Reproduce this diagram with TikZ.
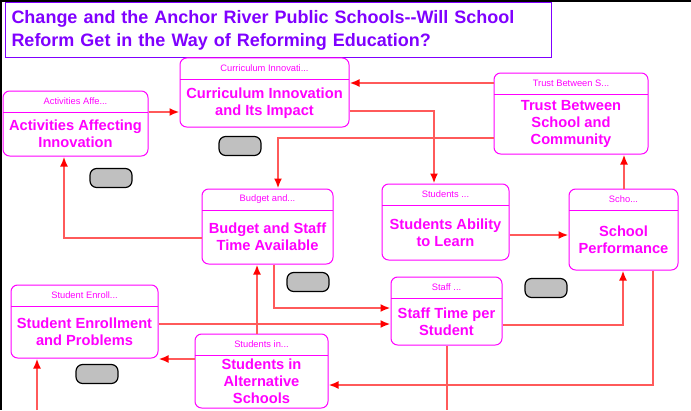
\documentclass[tikz,border=0pt]{standalone}
\usepackage{fontspec}
\setmainfont{Liberation Sans}
\usetikzlibrary{arrows.meta, fit, positioning}

\definecolor{mag}{RGB}{255,0,255}
\definecolor{titleviolet}{RGB}{128,0,255}
\definecolor{btngray}{RGB}{192,192,192}
\definecolor{linkred}{RGB}{255,90,90}

\tikzset{
  mbox/.style={draw=mag, line width=0.75pt, rounded corners=5pt, inner sep=0pt},
  hdtext/.style={text=mag, font=\fontsize{7}{8}\selectfont, inner sep=0pt},
  mtext/.style={text=mag, font=\bfseries\fontsize{11}{12.75}\selectfont, align=center, inner sep=0pt},
  plain/.style={draw=linkred, line width=1.5pt},
  link/.style={plain, -{Latex[length=7.5pt,width=6pt,fill=red,color=red]}},
  btn/.style={draw=black, fill=btngray, line width=0.9pt, rounded corners=5pt,
    minimum width=31.5pt, minimum height=14.25pt, inner sep=0pt}
}

\begin{document}
\begin{tikzpicture}[x=0.75pt, y=-0.75pt]
\useasboundingbox (0,0) rectangle (691,410);

% window edge
\fill[black] (0,0) rectangle (691,2);
\fill[black] (0,0) rectangle (2,410);

% title
\node[draw=titleviolet, line width=0.75pt, anchor=north west, text width=400.5pt,
  minimum height=41.25pt, inner sep=4.5pt, align=left, text=titleviolet,
  font=\bfseries\fontsize{13.5}{17.25}\selectfont] (title) at (5,2)
  {Change and the Anchor River Public Schools-{}-Will School\\Reform Get in the Way of Reforming Education?};

% model boxes: name/left/top/right/bottom/header/text
\foreach \nm/\xl/\yt/\xr/\yb/\hd/\tx in {
  acts/3/91/148/156/{Activities Affe...}/{Activities Affecting\\Innovation},
  curr/180/58/349/127/{Curriculum Innovati...}/{Curriculum Innovation\\and Its Impact},
  trust/494/73/648/154/{Trust Between S...}/{Trust Between\\School and\\Community},
  budget/202/189/333/264/{Budget and...}/{Budget and Staff\\Time Available},
  ability/382/184/509/260/{Students ...}/{Students Ability\\to Learn},
  perf/569/189/678/270/{Scho...}/{School\\Performance},
  staff/391/277/502/345/{Staff ...}/{Staff Time per\\Student},
  enroll/11/285/158/358/{Student Enroll...}/{Student Enrollment\\and Problems},
  alt/195/334/328/408/{Students in...}/{Students in\\Alternative\\Schools}}
{
  \node[mbox, fit={(\xl,\yt) (\xr,\yb)}] (\nm) {};
  \draw[draw=mag, line width=0.75pt] (\xl,\yt+21) -- (\xr,\yt+21);
  \node[hdtext] (\nm-hd) at ({(\xl+\xr)/2},\yt+10.5) {\hd};
  \node[mtext] (\nm-tx) at ({(\xl+\xr)/2},{(\yt+21+\yb)/2}) {\tx};
}

% gray buttons
\node[btn] (btn1) at (240,146) {};
\node[btn] (btn2) at (111,178) {};
\node[btn] (btn3) at (308,282) {};
\node[btn] (btn4) at (97,374) {};
\node[btn] (btn5) at (546,288) {};

% free ends at the bottom edge
\coordinate (enrollin) at (37,410);
\coordinate (staffout) at (447,410);

% connectors
\draw[link] (acts.east |- 0,112) -- (curr.west |- 0,112);
\draw[link] (trust.west |- 0,83) -- (curr.east |- 0,83);
\draw[link] (curr.east |- 0,111) -| (434,0 |- ability.north);
\draw[link] (trust.west |- 0,138) -| (278,0 |- budget.north);
\draw[link] (624,0 |- perf.north) -- (624,0 |- trust.south);
\draw[link] (budget.west |- 0,238) -| (64,0 |- acts.south);
\draw[link] (ability.east |- 0,235) -- (perf.west |- 0,235);
\draw[link] (274,0 |- budget.south) |- (staff.west |- 0,308);
\draw[link] (enroll.east |- 0,324) -- (staff.west |- 0,324);
\draw[link] (257,0 |- alt.north) -- (257,0 |- budget.south);
\draw[link] (staff.east |- 0,325) -| (623,0 |- perf.south);
\draw[link] (653,0 |- perf.south) |- (alt.east |- 0,385);
\draw[link] (alt.west |- 0,359) -- (enroll.east |- 0,359);
\draw[link] (enrollin) -- (enrollin |- enroll.south);
\draw[plain] (staffout |- staff.south) -- (staffout);

\end{tikzpicture}
\end{document}
